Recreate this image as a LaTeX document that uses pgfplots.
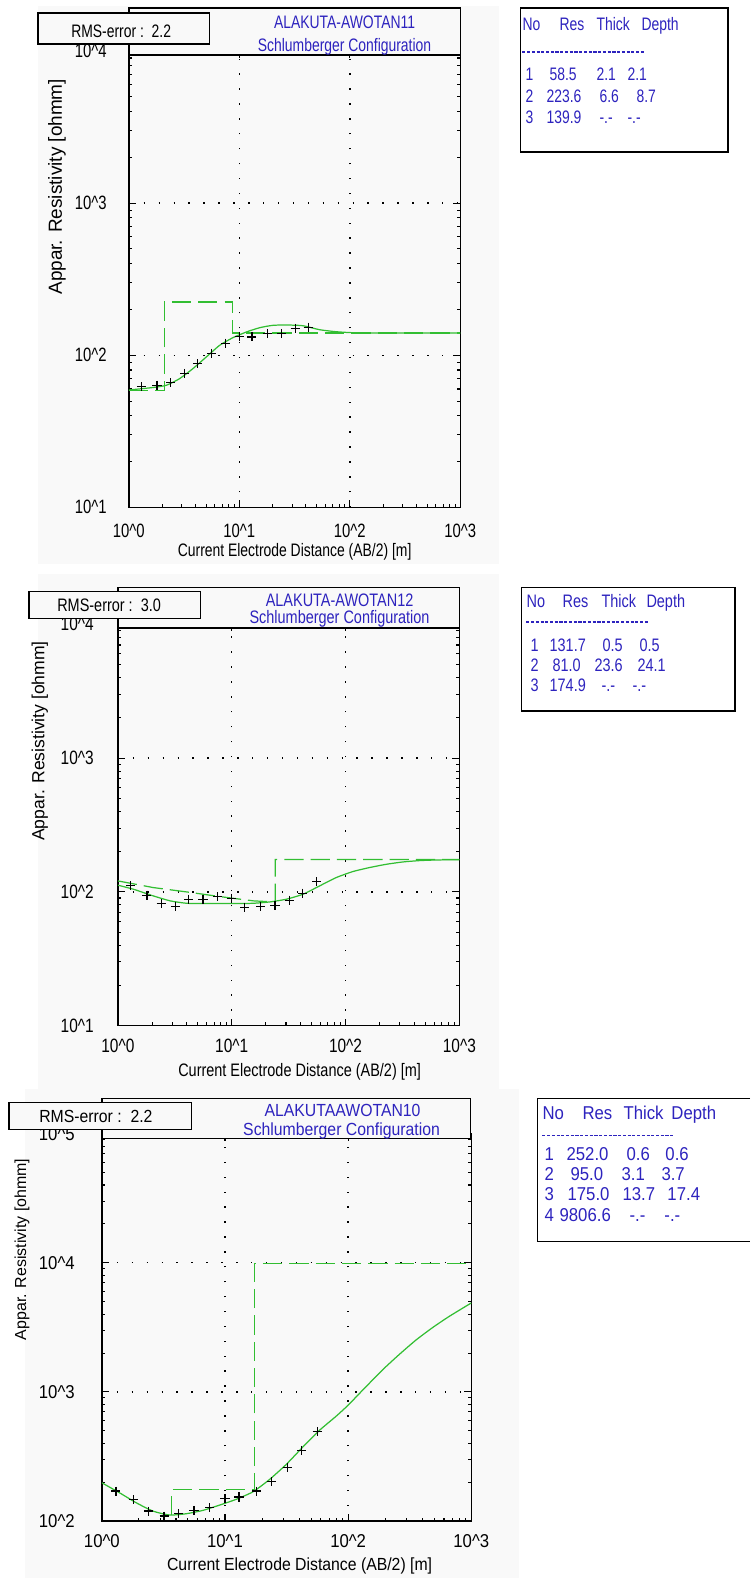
\documentclass[border=0pt]{standalone}
\usepackage{pgfplots}
\pgfplotsset{compat=1.18}
\usepackage{fontspec}
\setmainfont{Liberation Sans}
\newfontfamily\fa{Liberation Sans}[FakeStretch=0.77]
\newfontfamily\fb{Liberation Sans}[FakeStretch=0.80]
\newfontfamily\fc{Liberation Sans}[FakeStretch=0.90]
\newfontfamily\fy{Liberation Sans}
\newcommand\pa{\fa\fontsize{10.3}{12}\selectfont}
\newcommand\pb{\fb\fontsize{10.3}{12}\selectfont}
\newcommand\pc{\fc\fontsize{10}{12}\selectfont}
\newcommand\ta{\fa\fontsize{11}{12}\selectfont}
\newcommand\tb{\fb\fontsize{11}{12}\selectfont}
\newcommand\tc{\fc\fontsize{10.6}{12}\selectfont}
\definecolor{fitgreen}{RGB}{50,190,50}
\definecolor{txtblue}{RGB}{45,35,190}
\definecolor{panelbg}{RGB}{249,249,249}

\pgfplotsset{
  sndaxis/.style={
    scale only axis, xmin=1, xmax=1000,
    xtick={1,10,100,1000},
    xticklabels={10\textasciicircum0,10\textasciicircum1,10\textasciicircum2,10\textasciicircum3},
    axis line style={line width=0.8pt},
    tick align=inside, major tick length=0.14cm, minor tick length=0.07cm,
    every tick/.style={black, line width=0.6pt},
    grid=major,
    major grid style={black, line width=0.8pt, dash pattern=on 0.8pt off 7.7pt},
  },
  calcline/.style={fitgreen, line width=0.7pt, no markers, smooth, tension=0.35},
  modelline/.style={fitgreen, line width=0.7pt, dash pattern=on 11pt off 4pt, no markers},
  obsmark/.style={only marks, mark=+, mark size=2.6pt, black, line width=0.7pt},
}
% table cell: x, vertical centre of the row, text
\newcommand\cell[3]{\node[anchor=base west, inner sep=0pt, txtblue] at (#1,#2+5) {#3};}

\begin{document}
\begin{tikzpicture}
\begin{scope}[x=0.02cm, y=-0.02cm]
  \useasboundingbox (0,0) rectangle (751,1580);
  \fill[panelbg] (38,6) rectangle (500,565);
  \fill[panelbg] (38,575) rectangle (500,1098);
  \fill[panelbg] (25,1090) rectangle (520,1580);
  \coordinate (P1) at (129,508);
  \coordinate (P2) at (118,1027);
  \coordinate (P3) at (102,1523);
\end{scope}

% ---------------- panel 1 ----------------
\begin{loglogaxis}[sndaxis, at={(P1)}, anchor=south west, width=6.64cm, height=9.14cm,
  ymin=10, ymax=10000, ytick={10,100,1000,10000},
  yticklabels={10\textasciicircum1,10\textasciicircum2,10\textasciicircum3,10\textasciicircum4},
  tick label style={font=\ta},
  xticklabel style={anchor=center, yshift=-0.48cm},
  yticklabel style={anchor=east, xshift=-0.32cm}]
\addplot[modelline] coordinates {(1,58.5)(2.1,58.5)(2.1,223.6)(8.7,223.6)(8.7,139.9)(1000,139.9)};
\addplot[calcline] coordinates {(1,59.1)(1.66,61.4)(2.19,63.5)(2.89,70.3)(3.81,81.8)(5.03,97.5)
  (6.64,116.3)(8.77,130.6)(11.6,142.3)(15.3,151.8)(20.1,157.3)(26.6,158.1)(37.6,156.4)
  (53.2,147.2)(75.3,142.8)(106,140.7)(200,140)(1000,139.9)};
\addplot[obsmark] coordinates {(1.3,62)(1.8,63.5)(2.4,66)(3.2,76)(4.2,88)(5.6,103)(7.5,120)
  (10,133)(13,132)(18,139)(24,139)(32,150)(42,153)};
\end{loglogaxis}

% ---------------- panel 2 ----------------
\begin{loglogaxis}[sndaxis, at={(P2)}, anchor=south west, width=6.84cm, height=8.04cm,
  ymin=10, ymax=10000, ytick={10,100,1000,10000},
  yticklabels={10\textasciicircum1,10\textasciicircum2,10\textasciicircum3,10\textasciicircum4},
  tick label style={font=\tb},
  xticklabel style={anchor=center, yshift=-0.40cm},
  yticklabel style={anchor=east, xshift=-0.36cm}]
\addplot[modelline] coordinates {(1,120.8)(2.05,107.7)(4.0,100)(7.9,92.2)(15.5,85.7)(24.1,84)
  (24.1,174.9)(1000,174.9)};
\addplot[calcline] coordinates {(1,112.2)(1.37,104.7)(2.05,93.3)(2.88,85.7)(4.02,82.2)(5.63,81.8)
  (7.88,81.8)(11,81.8)(15.5,82.2)(21.6,84.1)(30.3,88.2)(42.4,96.1)(59.3,110.9)(83,128)
  (116,141.9)(163,152.1)(228,160.8)(319,167.4)(447,171.3)(625,173.2)(1000,174.2)};
\addplot[obsmark] coordinates {(1.3,110.9)(1.8,94.4)(2.4,81.8)(3.2,77.8)(4.2,88.2)(5.6,88.2)
  (7.5,92.2)(10,89.7)(13,76.4)(18,77.8)(24,79.5)(32,86.6)(42,97.7)(56,118.8)};
\end{loglogaxis}

% ---------------- panel 3 ----------------
\begin{loglogaxis}[sndaxis, at={(P3)}, anchor=south west, width=7.40cm, height=7.76cm,
  ymin=100, ymax=100000, ytick={100,1000,10000,100000},
  yticklabels={10\textasciicircum2,10\textasciicircum3,10\textasciicircum4,10\textasciicircum5},
  tick label style={font=\tc},
  xticklabel style={anchor=center, yshift=-0.40cm},
  yticklabel style={anchor=east, xshift=-0.42cm}]
\addplot[modelline] coordinates {(1,95)(3.7,95)(3.7,175)(17.4,175)(17.4,9806.6)(1000,9806.6)};
\addplot[calcline] coordinates {(1,197.8)(1.39,165.6)(1.90,138.6)(2.60,119.4)(3.55,111.3)
  (4.84,113.9)(6.61,120.9)(9.03,132.9)(12.3,147.2)(16.9,168.7)(23.0,209.9)(31.4,274.3)
  (42.9,375)(58.6,505)(80.1,650)(100,790)(127,1000)(190,1480)(260,1950)(355,2520)
  (485,3150)(663,3850)(1000,4886)};
\addplot[obsmark] coordinates {(1.3,170.6)(1.8,146.1)(2.4,119.4)(3.2,109.3)(4.2,113.9)(5.6,120.9)
  (7.5,126.7)(10,149.7)(13,153.4)(18,170.6)(24,201.4)(32,261.6)(42,351.9)(56,490.7)};
\end{loglogaxis}

\begin{scope}[x=0.02cm, y=-0.02cm]
  % ---- panel 1 decorations
  \draw[line width=0.8pt, fill=panelbg] (129,8) rectangle (461,55);
  \node[txtblue, font=\pa] at (345,22) {ALAKUTA-AWOTAN11};
  \node[txtblue, font=\pa] at (345,47) {Schlumberger Configuration};
  \draw[line width=0.8pt, fill=panelbg] (38,13) rectangle (210,44);
  \node[font=\pa, anchor=west, inner sep=0pt] at (71,31) {RMS-error :\ \ 2.2};
  \node[font=\pa] at (295,553) {Current Electrode Distance (AB/2) [m]};
  \node[font=\fy\fontsize{10.8}{12}\selectfont, rotate=90] at (57,187) {Appar. Resistivity [ohmm]};
  \draw[line width=0.8pt, fill=white] (521,8) rectangle (729,152);
  \begin{scope}[every node/.style={font=\pa}]
    \cell{523}{26}{No}\cell{560}{26}{Res}\cell{597}{26}{Thick}\cell{642}{26}{Depth}
    \cell{526}{76}{1}\cell{550}{76}{58.5}\cell{597}{76}{2.1}\cell{628}{76}{2.1}
    \cell{526}{98}{2}\cell{547}{98}{223.6}\cell{600}{98}{6.6}\cell{637}{98}{8.7}
    \cell{526}{119}{3}\cell{547}{119}{139.9}\cell{600}{119}{-.-}\cell{628}{119}{-.-}
  \end{scope}
  \draw[txtblue, line width=0.9pt, dash pattern=on 1.8pt off 0.9pt] (523,52) -- (645,52);

  % ---- panel 2 decorations
  \draw[line width=0.8pt, fill=panelbg] (118,588) rectangle (460,629);
  \node[txtblue, font=\pb] at (340,601) {ALAKUTA-AWOTAN12};
  \node[txtblue, font=\pb] at (340,620) {Schlumberger Configuration};
  \draw[line width=0.8pt, fill=panelbg] (29,592) rectangle (201,619);
  \node[font=\pb, anchor=west, inner sep=0pt] at (57,606) {RMS-error :\ \ 3.0};
  \node[font=\pb] at (300,1073) {Current Electrode Distance (AB/2) [m]};
  \node[font=\fy\fontsize{10}{12}\selectfont, rotate=90] at (40,742) {Appar. Resistivity [ohmm]};
  \draw[line width=0.8pt, fill=white] (522,588) rectangle (736,712);
  \begin{scope}[every node/.style={font=\pb}]
    \cell{527}{603}{No}\cell{563}{603}{Res}\cell{602}{603}{Thick}\cell{647}{603}{Depth}
    \cell{531}{647}{1}\cell{550}{647}{131.7}\cell{603}{647}{0.5}\cell{640}{647}{0.5}
    \cell{531}{667}{2}\cell{553}{667}{81.0}\cell{595}{667}{23.6}\cell{638}{667}{24.1}
    \cell{531}{687}{3}\cell{550}{687}{174.9}\cell{602}{687}{-.-}\cell{633}{687}{-.-}
  \end{scope}
  \draw[txtblue, line width=0.9pt, dash pattern=on 1.8pt off 0.9pt] (527,623) -- (650,623);

  % ---- panel 3 decorations
  \draw[line width=0.8pt, fill=panelbg] (102,1100) rectangle (471,1140);
  \node[txtblue, font=\pc] at (343,1112) {ALAKUTAAWOTAN10};
  \node[txtblue, font=\pc] at (342,1132) {Schlumberger Configuration};
  \draw[line width=0.8pt, fill=panelbg] (9,1104) rectangle (192,1131);
  \node[font=\pc, anchor=west, inner sep=0pt] at (39,1118) {RMS-error :\ \ 2.2};
  \node[font=\pc] at (300,1568) {Current Electrode Distance (AB/2) [m]};
  \node[font=\fy\fontsize{9.1}{11}\selectfont, rotate=90] at (22,1251) {Appar. Resistivity [ohmm]};
  \fill[white] (538,1100) rectangle (751,1243);
  \draw[line width=0.8pt] (751,1100) -- (538,1100) -- (538,1243) -- (751,1243);
  \begin{scope}[every node/.style={font=\tc}]
    \cell{543}{1116}{No}\cell{583}{1116}{Res}\cell{624}{1116}{Thick}\cell{672}{1116}{Depth}
    \cell{545}{1157}{1}\cell{567}{1157}{252.0}\cell{627}{1157}{0.6}\cell{666}{1157}{0.6}
    \cell{545}{1177}{2}\cell{571}{1177}{95.0}\cell{622}{1177}{3.1}\cell{662}{1177}{3.7}
    \cell{545}{1197}{3}\cell{568}{1197}{175.0}\cell{623}{1197}{13.7}\cell{668}{1197}{17.4}
    \cell{545}{1218}{4}\cell{560}{1218}{9806.6}\cell{630}{1218}{-.-}\cell{665}{1218}{-.-}
  \end{scope}
  \draw[txtblue, line width=0.9pt, dash pattern=on 1.8pt off 0.9pt] (543,1137) -- (675,1137);
\end{scope}
\end{tikzpicture}
\end{document}
